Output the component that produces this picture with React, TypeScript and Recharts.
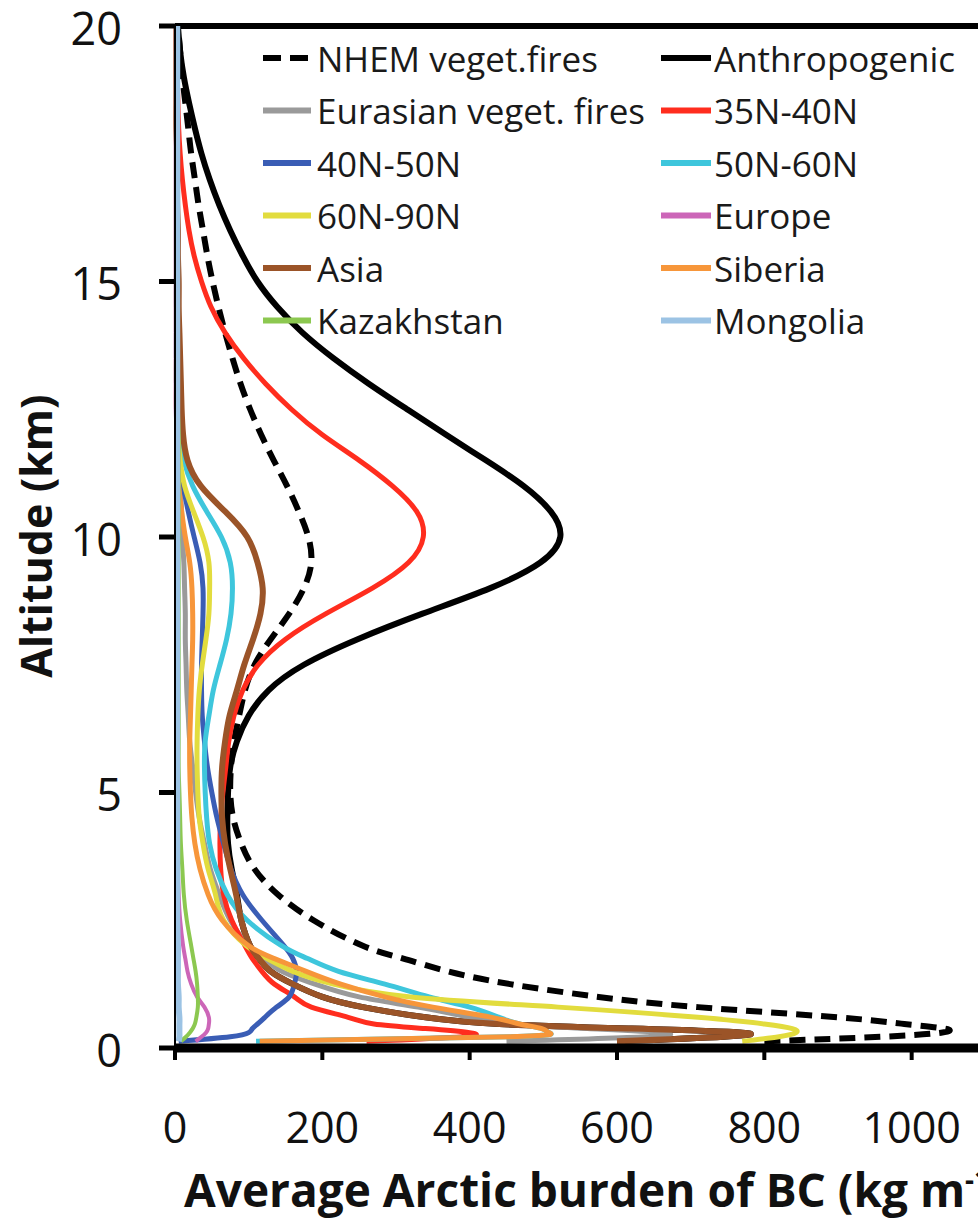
import React from 'react';
import { LineChart, Line, XAxis, YAxis, ReferenceLine, Legend } from 'recharts';

// Altitude levels (km)
const ALTITUDE_KM = [0.13, 0.22, 0.3, 0.38, 0.47, 0.6, 0.8, 1.0, 1.25, 1.5, 1.75, 2, 2.5, 3, 3.5, 4, 4.5, 5, 5.5, 6, 6.5, 7, 7.5, 8, 8.5, 9, 9.5, 10, 10.5, 11, 11.5, 12, 12.5, 13, 13.5, 14, 14.5, 15, 15.5, 16, 16.5, 17, 17.5, 18, 18.5, 19, 19.5, 20];

// Average Arctic burden of BC per source (kg m-1), one value per altitude level
const NHEM_VEGET_FIRES = [800, 960, 1040, 1045, 990, 900, 710, 575, 455, 370, 310, 255, 188, 140, 108, 90, 79, 75, 76, 80, 87, 95, 108, 130, 155, 175, 185, 181, 168, 152, 134, 117, 102, 89, 78, 68, 59, 51, 44, 38, 32, 27, 22, 18, 14, 10, 7, 4];
const ANTHROPOGENIC = [600, 745, 770, 620, 440, 340, 255, 200, 160, 130, 114, 102, 90, 84, 77, 72, 71, 72, 75, 84, 100, 127, 175, 248, 336, 428, 496, 523, 510, 473, 422, 368, 315, 263, 215, 173, 139, 112, 92, 75, 60, 47, 36, 27, 19, 12, 7, 4];
const EURASIAN_VEGET_FIRES = [450, 640, 660, 560, 460, 400, 330, 250, 190, 145, 120, 100, 75, 60, 48, 40, 33, 28, 24, 20, 18, 16, 15, 14, 14, 13, 12, 10, 9, 7, 6, 5, 4, 4, 3, 3, 2, 2, 2, 2, 2, 2, 2, 2, 2, 2, 2, 2];
const LAT_35N_40N = [260, 390, 400, 340, 270, 235, 185, 162, 135, 118, 105, 95, 77, 66, 62, 61, 62, 65, 69, 73, 80, 92, 113, 150, 205, 268, 317, 337, 328, 295, 250, 200, 158, 123, 93, 68, 49, 36, 26, 19, 14, 10, 7, 5, 4, 3, 2, 2];
const LAT_40N_50N = [5, 75, 100, 105, 112, 122, 138, 155, 162, 165, 160, 148, 118, 92, 76, 66, 57, 50, 44, 40, 37, 36, 36, 37, 38, 38, 34, 26, 18, 11, 6, 4, 3, 2, 2, 2, 2, 2, 2, 2, 2, 2, 2, 2, 2, 2, 2, 2];
const LAT_50N_60N = [110, 455, 508, 498, 468, 440, 400, 345, 285, 222, 180, 145, 98, 71, 56, 47, 43, 41, 40, 41, 46, 52, 61, 70, 76, 78, 75, 63, 43, 24, 12, 6, 4, 3, 2, 2, 2, 2, 2, 2, 2, 2, 2, 2, 2, 2, 2, 2];
const LAT_60N_90N = [770, 820, 843, 838, 800, 710, 520, 320, 215, 160, 125, 97, 66, 55, 45, 38, 33, 31, 30, 30, 31, 33, 37, 42, 46, 47, 46, 38, 25, 13, 7, 4, 3, 2, 2, 2, 2, 2, 2, 2, 2, 2, 2, 2, 2, 2, 2, 2];
const EUROPE = [28, 36, 42, 45, 46, 46, 40, 30, 22, 17, 14, 11, 7, 5, 4, 3, 2, 2, 2, 2, 2, 2, 2, 2, 2, 2, 2, 2, 2, 2, 2, 2, 1, 1, 1, 1, 1, 1, 1, 1, 1, 1, 1, 1, 1, 1, 1, 1];
const ASIA = [600, 745, 770, 620, 440, 340, 255, 200, 160, 130, 114, 102, 90, 83, 75, 68, 64, 63, 64, 68, 74, 84, 94, 106, 116, 119, 112, 98, 68, 35, 17, 11, 9, 8, 7, 6, 5, 5, 4, 4, 3, 3, 3, 2, 2, 2, 2, 2];
const SIBERIA = [115, 455, 508, 498, 468, 430, 350, 285, 225, 178, 135, 100, 64, 45, 34, 27, 23, 21, 20, 20, 21, 22, 23, 24, 24, 23, 20, 14, 9, 5, 4, 3, 2, 2, 2, 2, 2, 2, 2, 2, 2, 2, 2, 2, 2, 2, 2, 2];
const KAZAKHSTAN = [8, 15, 20, 24, 27, 29, 31, 31, 30, 28, 25, 22, 16, 12, 10, 8, 7, 6, 5, 5, 5, 5, 5, 5, 5, 5, 5, 5, 5, 5, 5, 5, 4, 4, 4, 4, 4, 4, 4, 4, 4, 4, 3, 3, 3, 3, 3, 3];
const MONGOLIA = [5, 6, 6, 6, 6, 6, 5, 5, 4, 4, 4, 4, 3, 3, 3, 3, 3, 3, 3, 3, 3, 3, 3, 3, 3, 3, 3, 3, 3, 3, 3, 3, 3, 3, 3, 3, 3, 3, 3, 3, 3, 3, 3, 3, 3, 3, 3, 3];

const X_TICKS = [0, 200, 400, 600, 800, 1000];
const Y_TICKS = [0, 5, 10, 15, 20];

const SERIES = [
  { key: 'nhem', name: 'NHEM veget.fires', values: NHEM_VEGET_FIRES, color: '#000000', width: 6, dash: '16 9' },
  { key: 'anthro', name: 'Anthropogenic', values: ANTHROPOGENIC, color: '#000000', width: 6 },
  { key: 'eurasian', name: 'Eurasian veget. fires', values: EURASIAN_VEGET_FIRES, color: '#9a9a9a', width: 5 },
  { key: 'l3540', name: '35N-40N', values: LAT_35N_40N, color: '#ff2d1e', width: 5 },
  { key: 'l4050', name: '40N-50N', values: LAT_40N_50N, color: '#3a5db5', width: 5 },
  { key: 'l5060', name: '50N-60N', values: LAT_50N_60N, color: '#3ec6dc', width: 5 },
  { key: 'l6090', name: '60N-90N', values: LAT_60N_90N, color: '#e2dc3e', width: 5 },
  { key: 'europe', name: 'Europe', values: EUROPE, color: '#cc66b8', width: 4 },
  { key: 'asia', name: 'Asia', values: ASIA, color: '#9b5428', width: 6 },
  { key: 'siberia', name: 'Siberia', values: SIBERIA, color: '#f7963a', width: 5 },
  { key: 'kazakhstan', name: 'Kazakhstan', values: KAZAKHSTAN, color: '#8cc850', width: 4 },
  { key: 'mongolia', name: 'Mongolia', values: MONGOLIA, color: '#9cc3e4', width: 6 },
];

const rows = ALTITUDE_KM.map((alt, i) => {
  const r: Record<string, number> = { alt };
  SERIES.forEach((s) => { r[s.key] = s.values[i]; });
  return r;
});

const FONT = '"Open Sans", "DejaVu Sans", sans-serif';

const renderLegend = () => (
  <svg width={978} height={360} style={{ display: 'block' }}>
    {SERIES.map((s, i) => {
      const col = i % 2;
      const row = Math.floor(i / 2);
      const y = 58 + row * 52.5;
      const x0 = col === 0 ? 263 : 661;
      const x1 = col === 0 ? 311 : 711;
      const tx = col === 0 ? 317 : 714;
      return (
        <g key={s.key}>
          <line x1={x0} x2={x1} y1={y} y2={y} stroke={s.color} strokeWidth={6}
            strokeDasharray={s.dash ? '18 9' : undefined} />
          <text x={tx} y={y} dominantBaseline="central" fontFamily={FONT} fontSize={35} fill="#1a1a1a">{s.name}</text>
        </g>
      );
    })}
  </svg>
);

export default function App() {
  return (
    <div style={{ position: 'absolute', left: 0, top: 0, width: 978, height: 1220, overflow: 'hidden', background: '#fff' }}>
      <LineChart
        width={1100}
        height={1220}
        layout="vertical"
        data={rows}
        margin={{ top: 26, right: 41, bottom: 72, left: 0 }}
      >
        <XAxis
          type="number"
          domain={[0, 1200]}
          ticks={X_TICKS}
          interval={0}
          height={100}
          tickSize={12}
          tickMargin={52}
          axisLine={{ stroke: '#000', strokeWidth: 9 }}
          tickLine={{ stroke: '#000', strokeWidth: 4 }}
          tick={{ fontSize: 43, fill: '#111', fontFamily: FONT }}
        />
        <YAxis
          type="number"
          dataKey="alt"
          domain={[0, 20]}
          reversed
          ticks={Y_TICKS}
          interval={0}
          width={175}
          tickSize={16}
          tickMargin={37}
          axisLine={{ stroke: '#000', strokeWidth: 2 }}
          tickLine={{ stroke: '#000', strokeWidth: 5 }}
          tick={{ fontSize: 45, fill: '#111', fontFamily: FONT, dy: 3 }}
        />
        <ReferenceLine y={20} stroke="#000" strokeWidth={6} />
        {SERIES.map((s) => (
          <Line
            key={s.key}
            dataKey={s.key}
            name={s.name}
            type="natural"
            stroke={s.color}
            strokeWidth={s.width}
            strokeDasharray={s.dash}
            dot={false}
            activeDot={false}
            isAnimationActive={false}
          />
        ))}
        <Legend
          layout="vertical"
          align="center"
          verticalAlign="middle"
          content={renderLegend}
          wrapperStyle={{ left: 0, top: 0, width: 978, height: 360 }}
        />
      </LineChart>
      <svg width={978} height={1220} style={{ position: 'absolute', left: 0, top: 0, pointerEvents: 'none' }}>
        <text x={0} y={0} transform="translate(52,536) rotate(-90)" textAnchor="middle" fontFamily={FONT} fontWeight={700} fontSize={43} fill="#111">Altitude (km)</text>
        <text x={184} y={1207} fontFamily={FONT} fontWeight={700} fontSize={46} fill="#111">
          Average Arctic burden of BC (kg m<tspan dy={-17} fontSize={28}>-1</tspan><tspan dy={17}>)</tspan>
        </text>
      </svg>
    </div>
  );
}
